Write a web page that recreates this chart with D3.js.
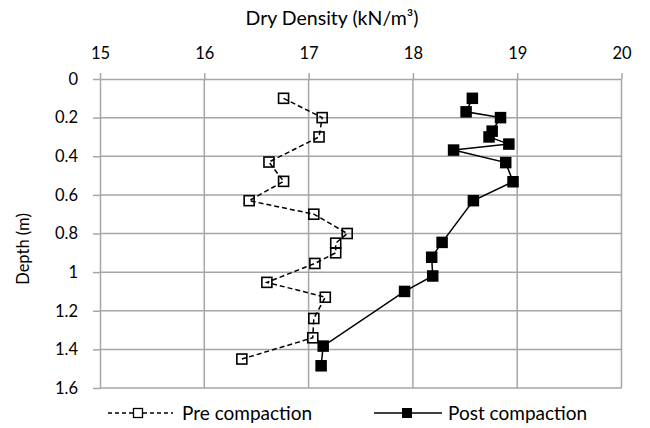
<!DOCTYPE html>
<html><head><meta charset="utf-8">
<script src="https://cdn.jsdelivr.net/npm/d3@7"></script>
<style>
html,body{margin:0;padding:0;background:#fff;}
svg{display:block;font-family:Lato,"Open Sans",sans-serif;}
</style></head>
<body>
<svg id="chart" width="650" height="428"></svg>
<script>
const xTicks = [15, 16, 17, 18, 19, 20];
const yTicks = [0, 0.2, 0.4, 0.6, 0.8, 1, 1.2, 1.4, 1.6];
const preDensity = [16.76, 17.13, 17.10, 16.62, 16.76, 16.43, 17.05, 17.37, 17.26, 17.26, 17.06, 16.60, 17.16, 17.05, 17.04, 16.36];
const preDepth   = [0.10, 0.20, 0.30, 0.43, 0.53, 0.63, 0.70, 0.80, 0.85, 0.90, 0.955, 1.053, 1.13, 1.24, 1.34, 1.45];
const postDensity = [18.57, 18.51, 18.84, 18.76, 18.73, 18.92, 18.39, 18.89, 18.96, 18.58, 18.28, 18.18, 18.19, 17.92, 17.14, 17.12];
const postDepth   = [0.10, 0.17, 0.20, 0.27, 0.30, 0.337, 0.368, 0.433, 0.532, 0.63, 0.846, 0.923, 1.02, 1.10, 1.383, 1.485];
const seriesNames = ["Pre compaction", "Post compaction"];
const xTitle = "Dry Density (kN/m³)";
const yTitle = "Depth (m)";

(function () {
const svg = d3.select("#chart");
const pL = 100, pR = 621.5, pT = 79, pB = 388;
const x = d3.scaleLinear().domain([15, 20]).range([pL, pR]);
const y = d3.scaleLinear().domain([0, 1.6]).range([pT, pB]);
const grid = "#a6a6a6";

svg.append("g").selectAll("line").data(xTicks.slice(1)).join("line")
  .attr("x1", d => x(d)).attr("x2", d => x(d)).attr("y1", pT).attr("y2", pB)
  .attr("stroke", grid).attr("stroke-width", 1.5);
svg.append("g").selectAll("line").data(yTicks.slice(1)).join("line")
  .attr("x1", pL).attr("x2", pR).attr("y1", d => y(d)).attr("y2", d => y(d))
  .attr("stroke", grid).attr("stroke-width", 1.5);

const fmt = d => String(d);
const ax = svg.append("g").attr("transform", `translate(0,${pT})`)
  .call(d3.axisTop(x).tickValues(xTicks).tickSize(6).tickSizeOuter(0).tickPadding(14).tickFormat(fmt));
const ay = svg.append("g").attr("transform", `translate(${pL},0)`)
  .call(d3.axisLeft(y).tickValues(yTicks).tickSize(7).tickSizeOuter(0).tickPadding(15).tickFormat(fmt));
[ax, ay].forEach(a => {
  a.selectAll("path,line").attr("stroke", grid).attr("stroke-width", 1.5);
  a.selectAll("text").attr("fill", "#000").style("font-size", "16.5px").attr("font-family", "Lato");
});

svg.append("text").attr("x", 332).attr("y", 25).attr("text-anchor", "middle")
  .style("font-size", "19.5px").text(xTitle);
svg.append("text").attr("transform", `translate(29,249) rotate(-90)`)
  .attr("text-anchor", "middle").style("font-size", "16.5px").text(yTitle);

const pre = preDensity.map((v, i) => [v, preDepth[i]]);
const post = postDensity.map((v, i) => [v, postDepth[i]]);
const line = d3.line().x(d => x(d[0])).y(d => y(d[1]));

svg.append("path").datum(pre).attr("d", line).attr("fill", "none")
  .attr("stroke", "#000").attr("stroke-width", 1.5).attr("stroke-dasharray", "5,3");
svg.append("path").datum(post).attr("d", line).attr("fill", "none")
  .attr("stroke", "#000").attr("stroke-width", 1.5);

const ms = 10;
svg.append("g").selectAll("rect").data(pre).join("rect")
  .attr("x", d => x(d[0]) - ms / 2).attr("y", d => y(d[1]) - ms / 2)
  .attr("width", ms).attr("height", ms).attr("fill", "none")
  .attr("stroke", "#000").attr("stroke-width", 1.6);
svg.append("g").selectAll("rect").data(post).join("rect")
  .attr("x", d => x(d[0]) - 5.75).attr("y", d => y(d[1]) - 5.75)
  .attr("width", 11.5).attr("height", 11.5).attr("fill", "#000");

const ly = 413;
const lg = svg.append("g");
lg.append("line").attr("x1", 108).attr("x2", 173).attr("y1", ly).attr("y2", ly)
  .attr("stroke", "#000").attr("stroke-width", 1.5).attr("stroke-dasharray", "4,3");
lg.append("rect").attr("x", 138 - 4.5).attr("y", ly - 4.5).attr("width", 9).attr("height", 9)
  .attr("fill", "#fff").attr("stroke", "#000").attr("stroke-width", 1.3);
lg.append("text").attr("x", 182).attr("y", ly + 6.5).style("font-size", "19px").text(seriesNames[0]);
lg.append("line").attr("x1", 374).attr("x2", 442).attr("y1", ly).attr("y2", ly)
  .attr("stroke", "#000").attr("stroke-width", 1.5);
lg.append("rect").attr("x", 407 - 5).attr("y", ly - 5).attr("width", 10).attr("height", 10).attr("fill", "#000");
lg.append("text").attr("x", 448).attr("y", ly + 6.5).style("font-size", "19px").text(seriesNames[1]);
})();
</script>
</body></html>
